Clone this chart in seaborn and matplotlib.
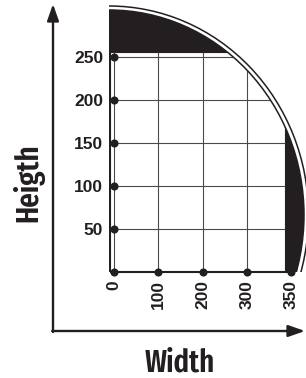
import numpy as np
import pandas as pd
import matplotlib
matplotlib.use('Agg')
import matplotlib.pyplot as plt
from matplotlib.patches import Ellipse, Rectangle
import seaborn as sns

# ==========================================
# DATA
# ==========================================
width_labels = ['0', '100', '200', '300', '350']
height_values = [50, 100, 150, 200, 250]
grid_widths = [0, 1, 2, 3]          # tick positions that carry a vertical grid line
x_title = 'Width'
y_title = 'Heigth'

# ==========================================
# LAYOUT (pixels of the 306x378 picture)
# ==========================================
W, H = 306, 378
X0, Y0 = 114, 272          # pixel of the (0, 0) dot
PX_X = 44.25               # px between two width ticks
PX_Y = 0.86                # px per height unit
INK = '#231f20'
GRID = '#4a4a4a'


def to_x(px):
    return (px - X0) / PX_X


def to_y(py):
    return (Y0 - py) / PX_Y


sns.set_style('white')
plt.rcParams['font.family'] = ['Liberation Sans', 'DejaVu Sans']

fig = plt.figure(figsize=(W / 100, H / 100), dpi=100)
ax = fig.add_axes([109 / W, (H - Y0) / H, (W - 109) / W, Y0 / H])

# quarter disc behind the grid
cx, cy = to_x(109), to_y(215)
rx, ry = 195 / PX_X, 205 / PX_Y
outer = Ellipse((cx, cy), 2 * 199.5 / PX_X, 2 * 209 / PX_Y, fill=False,
                edgecolor=INK, lw=1.1, zorder=1)
ax.add_patch(outer)
disc = Ellipse((cx, cy), 2 * rx, 2 * ry, facecolor=INK, edgecolor='none', zorder=1)
ax.add_patch(disc)

# white grid panel, cut by the disc
rect_left, rect_right, rect_top = to_x(110), to_x(285), to_y(52)
panel = Rectangle((rect_left, 0), rect_right - rect_left, rect_top,
                  facecolor='white', edgecolor=INK, lw=0.8, zorder=2)
ax.add_patch(panel)
panel.set_clip_path(disc)

hl = ax.hlines(height_values, rect_left, rect_right, color=GRID, lw=0.8, zorder=3)
hl.set_clip_path(disc)
vl = ax.vlines(grid_widths, 0, rect_top, color=GRID, lw=0.8, zorder=3)
vl.set_clip_path(disc)

rim = Ellipse((cx, cy), 2 * rx, 2 * ry, fill=False, edgecolor=INK, lw=1.1, zorder=4)
ax.add_patch(rim)

# base line
ax.hlines(0, rect_left, len(width_labels) - 1, color=INK, lw=1.5, zorder=5, clip_on=False)

# dots on both axes
pts = pd.DataFrame({
    'x': list(range(len(width_labels))) + [0] * len(height_values),
    'y': [0] * len(width_labels) + height_values,
})
sns.scatterplot(data=pts, x='x', y='y', color=INK, s=34, linewidth=0,
                ax=ax, clip_on=False, zorder=6, legend=False)

ax.set_xlim(to_x(109), to_x(W))
ax.set_ylim(0, to_y(0))
ax.set_xticks(range(len(width_labels)), width_labels, rotation=90)
ax.set_yticks(height_values, [str(v) for v in height_values])
ax.tick_params(axis='x', length=0, pad=5.8, labelsize=12.5, colors=INK)
ax.tick_params(axis='y', length=0, pad=4.3, labelsize=12.5, colors=INK)
for lab in ax.get_xticklabels() + ax.get_yticklabels():
    lab.set_fontweight('bold')
ax.set_xlabel('')
ax.set_ylabel('')
for s in ax.spines.values():
    s.set_visible(False)
ax.set_facecolor('none')

# arrows and titles in pixel space
over = fig.add_axes([0, 0, 1, 1])
over.set_xlim(0, W)
over.set_ylim(H, 0)
over.axis('off')
arrow = dict(arrowstyle='-|>,head_length=1.0,head_width=0.35', color=INK, lw=1.7,
             mutation_scale=10, shrinkA=0, shrinkB=0)
over.annotate('', xy=(53, 4), xytext=(53, 332), arrowprops=arrow)
over.annotate('', xy=(305, 331), xytext=(52.2, 331), arrowprops=arrow)

title_font = dict(fontsize=22.5, fontweight='semibold', color=INK,
                  family=['Fira Sans Extra Condensed', 'Fira Sans Condensed', 'DejaVu Sans'])
over.text(180, 372, x_title, ha='center', va='baseline', **title_font)
over.text(37.5, 183, y_title, rotation=90, rotation_mode='anchor',
          ha='center', va='baseline', **title_font)

fig.savefig('out.png', dpi=100)
